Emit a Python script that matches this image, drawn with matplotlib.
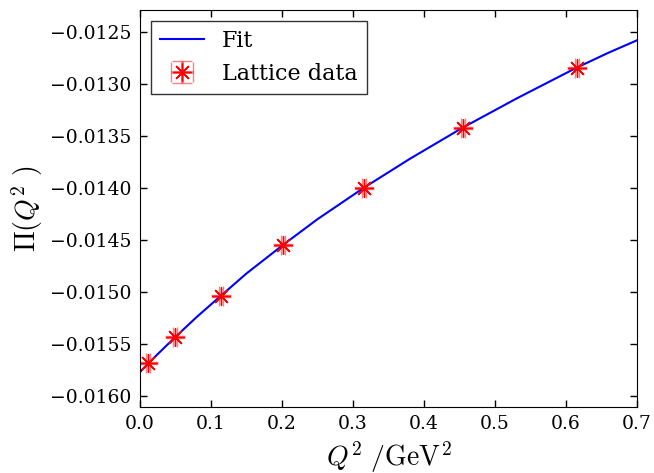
import numpy as np
import matplotlib
matplotlib.use("Agg")
import matplotlib.pyplot as plt
from matplotlib.ticker import FuncFormatter

plt.rcParams['font.family'] = 'DejaVu Serif'
plt.rcParams['mathtext.fontset'] = 'cm'
plt.rcParams['xtick.direction'] = 'in'
plt.rcParams['ytick.direction'] = 'in'

# lattice data
q2_data = [0.0117, 0.0493, 0.1137, 0.2014, 0.3155, 0.4545, 0.615]
pi_data = [-0.015686, -0.015436, -0.015038, -0.014548, -0.013997, -0.013420, -0.012843]
q2_err = [0.003, 0.003, 0.003, 0.003, 0.003, 0.003, 0.003]
pi_err = [0.00001, 0.00001, 0.00001, 0.00001, 0.00001, 0.00001, 0.00001]

# fit curve
q2_fit = [0.0, 0.0117, 0.03, 0.0493, 0.08, 0.1137, 0.15, 0.2014, 0.25, 0.3155,
          0.38, 0.4545, 0.53, 0.615, 0.66, 0.7]
pi_fit = [-0.015769, -0.015686, -0.015564, -0.015436, -0.01524, -0.015038, -0.014822,
          -0.014548, -0.0143, -0.013997, -0.01372, -0.01342, -0.013141, -0.012843,
          -0.012699, -0.01258]

fig = plt.figure(figsize=(6.54, 4.73), dpi=100)
ax = fig.add_axes([0.214, 0.1395, 0.76, 0.8395])

ax.plot(q2_fit, pi_fit, color='b', lw=1.5, label='Fit')
ax.errorbar(q2_data, pi_data, xerr=q2_err, yerr=pi_err, fmt='', ls='none',
            marker=(8, 2, 0), ms=13, mec='red', mew=1, color='red',
            ecolor=(1, 0, 0, 0.5), elinewidth=2, capsize=7.5, capthick=2,
            label='Lattice data')

ax.set_xlim(0.0, 0.7)
ax.set_ylim(-0.016106, -0.012288)
ax.set_yticks(np.arange(-0.0160, -0.01249, 0.0005))
ax.yaxis.set_major_formatter(FuncFormatter(lambda v, p: ('%.4f' % v).replace('-', '\u2212')))
ax.xaxis.set_major_formatter(FuncFormatter(lambda v, p: '%.1f' % v))
ax.tick_params(top=True, right=True, labelsize=13.5, length=5, width=1, pad=6)
ax.set_xlabel(r'$Q^2\ /\mathrm{GeV}^2$', fontsize=20)
ax.set_ylabel(r'$\Pi(Q^2\ )$', fontsize=20)

leg = ax.legend(loc='upper left', fontsize=16, fancybox=False, numpoints=1)
leg.get_frame().set_edgecolor('black')
leg.get_frame().set_linewidth(1)

fig.savefig('out.png', dpi=100)
